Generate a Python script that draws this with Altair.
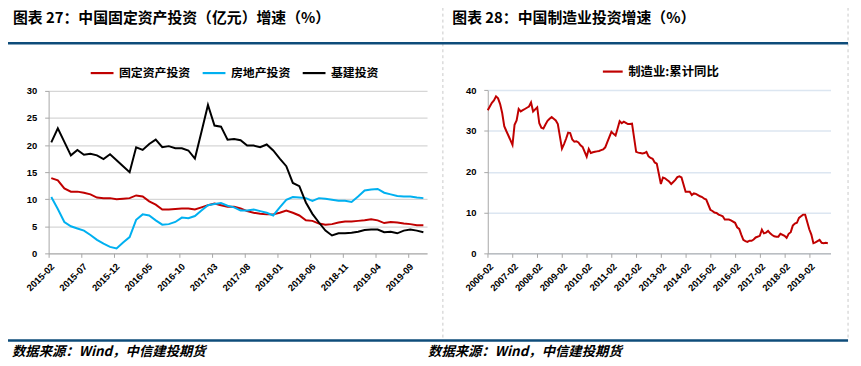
import altair as alt
import pandas as pd

# ---------------- Left panel data (2015-02 .. 2019-11, monthly) ----------------
left_series = ["固定资产投资", "房地产投资", "基建投资"]
left_colors = ["#c00000", "#00b0f0", "#000000"]
left_ticks = ["2015-02", "2015-07", "2015-12", "2016-05", "2016-10", "2017-03",
              "2017-08", "2018-01", "2018-06", "2018-11", "2019-04", "2019-09"]

fai = [13.9, 13.5, 12.0, 11.4, 11.4, 11.2, 10.9, 10.3, 10.2, 10.2, 10.0,
       10.1, 10.2, 10.7, 10.5, 9.6, 9.0, 8.1, 8.1, 8.2, 8.3, 8.3, 8.1,
       8.5, 8.9, 9.2, 8.9, 8.6, 8.6, 8.3, 7.8, 7.5, 7.3, 7.2, 7.2,
       7.5, 7.9, 7.5, 7.0, 6.1, 6.0, 5.5, 5.3, 5.4, 5.7, 5.9, 5.9,
       6.0, 6.1, 6.3, 6.1, 5.6, 5.8, 5.7, 5.5, 5.4, 5.2, 5.2]
realestate = [10.4, 8.2, 5.8, 5.0, 4.6, 4.2, 3.4, 2.5, 1.8, 1.2, 0.9,
              2.0, 3.0, 6.2, 7.2, 7.0, 6.1, 5.3, 5.4, 5.8, 6.6, 6.5, 6.9,
              7.9, 8.9, 9.1, 9.3, 8.8, 8.5, 7.9, 7.9, 8.1, 7.8, 7.5, 7.0,
              8.5, 9.9, 10.4, 10.3, 10.2, 9.7, 10.2, 10.1, 9.9, 9.7, 9.7, 9.5,
              10.5, 11.6, 11.8, 11.9, 11.2, 10.9, 10.6, 10.5, 10.5, 10.3, 10.2]
infra = [20.5, 23.1, 20.6, 18.1, 19.1, 18.2, 18.4, 18.1, 17.4, 18.3, 17.2,
         16.1, 15.0, 19.6, 19.1, 20.2, 21.0, 19.6, 19.8, 19.4, 19.4, 19.0, 17.5,
         22.4, 27.4, 23.6, 23.4, 21.0, 21.1, 20.9, 19.9, 19.9, 19.6, 20.1, 19.0,
         17.5, 16.1, 13.0, 12.4, 9.4, 7.3, 5.7, 4.2, 3.3, 3.7, 3.7, 3.8,
         4.0, 4.3, 4.4, 4.4, 3.9, 4.0, 3.7, 4.2, 4.4, 4.2, 3.9]

# ---------------- Right panel data (2006-02 .. 2019-11, Jan not published) ----------------
right_series = ["制造业:累计同比"]
right_ticks = [f"{y}-02" for y in range(2006, 2020)]
mfg_2006 = [35.1, 36.0, 36.9, 37.5, 38.5, 38.0, 36.6, 34.4, 31.2, 30.0, 28.9]
mfg_2007 = [26.6, 31.5, 32.6, 35.4, 34.8, 35.1, 35.4, 35.7, 36.0, 37.0, 34.8]
mfg_2008 = [35.8, 31.9, 30.8, 30.6, 31.6, 32.5, 33.0, 33.4, 33.0, 32.6, 31.7]
mfg_2009 = [25.7, 26.8, 28.1, 29.6, 29.5, 27.9, 27.4, 27.5, 27.2, 26.5, 26.1]
mfg_2010 = [23.7, 25.6, 24.6, 24.8, 24.9, 25.0, 25.1, 25.3, 25.5, 26.0, 27.3]
mfg_2011 = [29.8, 29.3, 28.9, 30.6, 32.4, 31.9, 32.3, 32.0, 31.7, 31.7, 31.8]
mfg_2012 = [24.9, 24.7, 24.6, 24.5, 24.6, 24.9, 23.8, 23.4, 23.2, 22.3, 22.0]
mfg_2013 = [17.0, 18.6, 18.4, 18.0, 17.6, 17.0, 17.5, 18.0, 18.7, 18.9, 18.6]
mfg_2014 = [15.1, 15.1, 15.1, 14.3, 14.7, 14.6, 14.3, 14.0, 13.8, 13.4, 13.2]
mfg_2015 = [10.7, 10.4, 10.0, 9.9, 9.5, 9.3, 9.1, 8.3, 8.3, 8.3, 8.1]
mfg_2016 = [7.5, 6.4, 6.0, 4.6, 3.3, 3.0, 2.8, 3.1, 3.1, 3.4, 3.9]
mfg_2017 = [4.3, 5.8, 4.9, 5.1, 5.5, 4.9, 4.5, 4.2, 4.1, 4.1, 4.8]
mfg_2018 = [4.3, 3.8, 4.8, 5.2, 6.8, 7.3, 7.5, 8.7, 9.1, 9.5, 9.5]
mfg_2019 = [5.9, 4.6, 2.5, 2.7, 3.0, 3.3, 2.6, 2.5, 2.6, 2.5]

# ---------------- Build tables ----------------
rows = []
for name, vals in zip(left_series, [fai, realestate, infra]):
    for i, v in enumerate(vals):
        rows.append({"idx": i, "series": name, "value": v})
left_df = pd.DataFrame(rows)

mfg_years = [mfg_2006, mfg_2007, mfg_2008, mfg_2009, mfg_2010, mfg_2011, mfg_2012,
             mfg_2013, mfg_2014, mfg_2015, mfg_2016, mfg_2017, mfg_2018, mfg_2019]
rrows = []
for k, vals in enumerate(mfg_years):
    for j, v in enumerate(vals):
        rrows.append({"m": 12 * k + j, "series": right_series[0], "value": v})
right_df = pd.DataFrame(rrows)

CJK = "Noto Sans CJK SC"
LAT = "Liberation Sans"
BLUE = "#0e4c7a"

def lbl_list(lst):
    return "[" + ",".join("'" + s + "'" for s in lst) + "]"

axis_common = dict(labelFont=LAT, labelFontWeight="bold", labelFontSize=9.5,
                   labelColor="#000000", domainColor="#a6a6a6", tickColor="#a6a6a6",
                   tickSize=4, title=None)

left = alt.Chart(left_df).mark_line(strokeWidth=2).encode(
    x=alt.X("idx:Q",
            scale=alt.Scale(domain=[-0.41, 57.56], range=[41, 423], nice=False, zero=False),
            axis=alt.Axis(orient="bottom", values=[5 * k - 0.36 for k in range(12)],
                          labelExpr=lbl_list(left_ticks) + "[round((datum.value+0.36)/5)]",
                          labelAngle=-45, labelPadding=4, grid=False,
                          labelOverlap=False, labelBound=False, labelFlush=False,
                          **axis_common)),
    y=alt.Y("value:Q",
            scale=alt.Scale(domain=[0, 30], range=[246, 82], nice=False),
            axis=alt.Axis(orient="left", offset=-41, values=[0, 5, 10, 15, 20, 25, 30],
                          labelPadding=8, grid=True, gridColor="#d6d6d6", gridWidth=1.3,
                          **axis_common)),
    color=alt.Color("series:N",
                    scale=alt.Scale(domain=left_series, range=left_colors),
                    legend=alt.Legend(orient="none", legendX=82, legendY=51,
                                      direction="horizontal", title=None,
                                      symbolType="stroke", symbolSize=529,
                                      symbolStrokeWidth=2.2, labelFont=CJK,
                                      labelFontWeight="bold", labelFontSize=12,
                                      labelOffset=4, columnPadding=7,
                                      labelColor="#000000")),
    detail="series:N",
)

right = alt.Chart(right_df).mark_line(strokeWidth=2).encode(
    x=alt.X("m:Q",
            scale=alt.Scale(domain=[0, 166.3], range=[484.3, 830.3], nice=False, zero=False),
            axis=alt.Axis(orient="bottom", values=[12 * k for k in range(14)],
                          labelExpr=lbl_list(right_ticks) + "[round(datum.value/12)]",
                          labelAngle=-45, labelPadding=4, grid=False,
                          labelOverlap=False, labelBound=False, labelFlush=False,
                          **axis_common)),
    y=alt.Y("value:Q",
            scale=alt.Scale(domain=[0, 40], range=[246, 81.3], nice=False),
            axis=alt.Axis(orient="left", offset=-484.3, values=[0, 10, 20, 30, 40],
                          labelPadding=8, grid=True, gridColor="#dce6f1", gridWidth=1.5,
                          **axis_common)),
    color=alt.Color("series:N",
                    scale=alt.Scale(domain=right_series, range=["#c00000"]),
                    legend=alt.Legend(orient="none", legendX=599, legendY=51,
                                      direction="horizontal", title=None,
                                      symbolType="stroke", symbolSize=400,
                                      symbolStrokeWidth=2.2, labelFont=CJK,
                                      labelFontWeight="bold", labelFontSize=12.5,
                                      labelOffset=4, labelColor="#000000")),
)

one = pd.DataFrame({"a": [0]})

def text_layer(txt, x, y, size, style="normal", weight="bold", color="#000000",
               baseline="middle"):
    return alt.Chart(pd.DataFrame({"t": [txt]})).mark_text(
        align="left", baseline=baseline, font=CJK, fontSize=size,
        fontWeight=weight, fontStyle=style, color=color
    ).encode(x=alt.value(x), y=alt.value(y), text="t:N")

def hrule(x1, x2, y, color, width, dash=None):
    kw = dict(color=color, strokeWidth=width)
    if dash:
        kw["strokeDash"] = dash
    return alt.Chart(one).mark_rule(**kw).encode(
        x=alt.value(x1), x2=alt.value(x2), y=alt.value(y))

def vrule(x, y1, y2, color, width, dash=None):
    kw = dict(color=color, strokeWidth=width)
    if dash:
        kw["strokeDash"] = dash
    return alt.Chart(one).mark_rule(**kw).encode(
        x=alt.value(x), y=alt.value(y1), y2=alt.value(y2))

decor = [
    vrule(439, -8, 334, "#c8c8c8", 1, [3, 3]),
    vrule(848, -8, 334, "#c8c8c8", 1, [3, 3]),
    hrule(-8, 848, 34, BLUE, 2.5),
    hrule(-8, 848, 334, BLUE, 2.5),
    text_layer("图表 27：中国固定资产投资（亿元）增速（%）", 5, 8.5, 15),
    text_layer("图表 28：中国制造业投资增速（%）", 448.5, 8.5, 15),
    text_layer("数据来源：Wind，中信建投期货", 4, 346, 13.5, style="italic"),
    text_layer("数据来源：Wind，中信建投期货", 424, 346, 13.5, style="italic"),
]

chart = alt.layer(left, right, *decor).resolve_scale(
    x="independent", y="independent", color="independent"
).properties(
    width=853, height=246,
    padding={"left": 0, "top": 0, "right": 0, "bottom": 112},
    autosize=alt.AutoSizeParams(type="none"),
    background="#ffffff",
).configure_view(stroke=None)

chart.save("out.html", embed_options={"renderer": "svg", "actions": False})
